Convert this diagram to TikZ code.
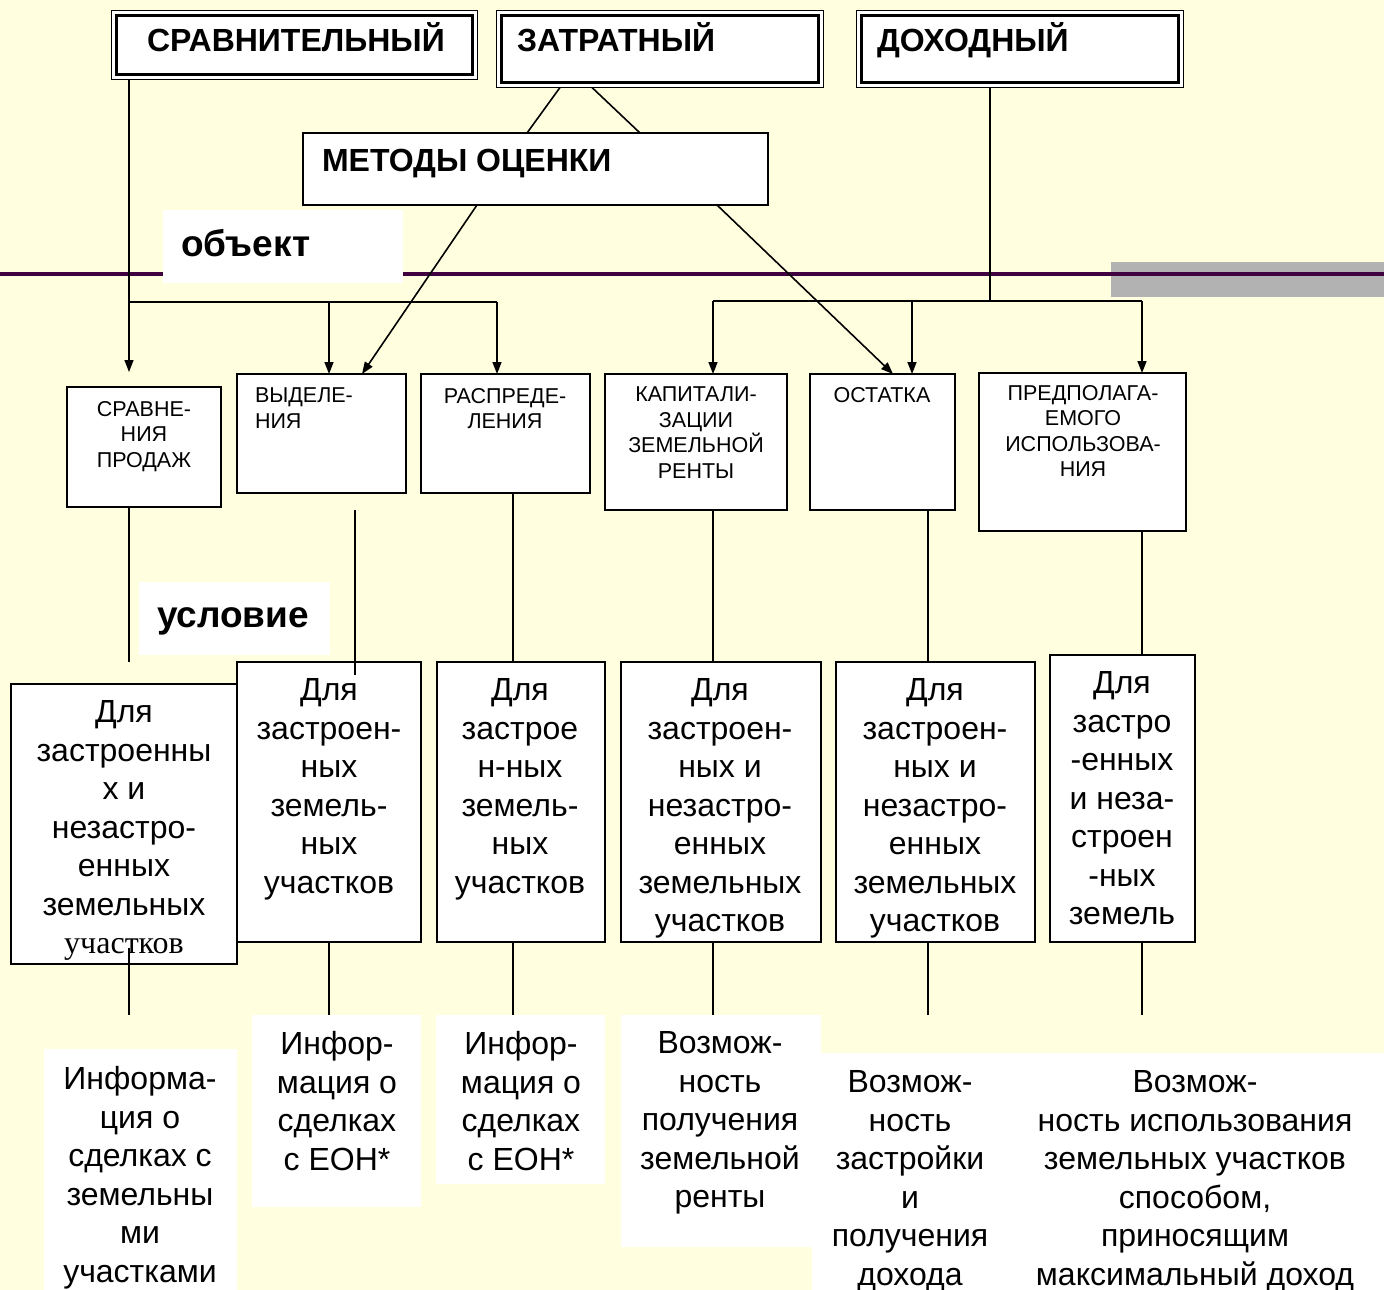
\documentclass[tikz,border=0pt]{standalone}
\usepackage{fontspec}
\setmainfont{Liberation Sans}
\newfontfamily\tnr{Liberation Serif}
\usetikzlibrary{arrows.meta,calc}
\definecolor{bg}{HTML}{FFFFE0}
\definecolor{purp}{HTML}{400040}
\definecolor{grayband}{HTML}{B2B2B2}
\tikzset{
  every node/.style={inner sep=0pt, outer sep=0pt},
  topbox/.style={draw, line width=1.4pt, fill=white, anchor=north west},
  innerline/.style={line width=2.8pt},
  box/.style={draw, line width=1.8pt, fill=white, anchor=north west},
  whitelab/.style={fill=white, anchor=north west},
  title/.style={font=\fontsize{32}{38}\selectfont\bfseries, anchor=base west},
  labtxt/.style={font=\fontsize{37}{42}\selectfont\bfseries, anchor=base west},
  smalltxt/.style={font=\fontsize{21.5}{25.5}\selectfont, align=center, anchor=north},
  bigtxt/.style={font=\fontsize{32}{38.5}\selectfont, align=center, anchor=north},
  conn/.style={line width=1.6pt},
  arr/.style={conn, -{Triangle[length=12pt,width=9pt]}},
}
\begin{document}
\begin{tikzpicture}[x=1pt,y=-1pt]
\fill[bg] (0,0) rectangle (1384,1290);
\useasboundingbox (0,0) rectangle (1384,1290);

% gray band and purple rule
\fill[grayband] (1111,262) rectangle (1384,297);
\draw[purp, line width=4pt] (0,274) -- (1384,274);

% labels on white
\node[whitelab, minimum width=240, minimum height=73] (objB) at (163,210) {};
\node[labtxt] (objT) at (181,256) {объект};
\node[whitelab, minimum width=191, minimum height=73] (uslB) at (139,582) {};
\node[labtxt] (uslT) at (157,627) {условие};

% top boxes (double frame: thin outer, thick inner)
\node[topbox, minimum width=366, minimum height=69] (srav) at (111.5,10.5) {};
\draw[innerline] ($(srav.north west)+(5,5)$) rectangle ($(srav.south east)+(-5,-5)$);
\node[title] (sravT) at (147,52) {СРАВНИТЕЛЬНЫЙ};
\node[topbox, minimum width=327, minimum height=77] (zatr) at (496.5,10.5) {};
\draw[innerline] ($(zatr.north west)+(5,5)$) rectangle ($(zatr.south east)+(-5,-5)$);
\node[title] (zatrT) at (517,52) {ЗАТРАТНЫЙ};
\node[topbox, minimum width=327, minimum height=77] (doh) at (856.5,10.5) {};
\draw[innerline] ($(doh.north west)+(5,5)$) rectangle ($(doh.south east)+(-5,-5)$);
\node[title] (dohT) at (877,52) {ДОХОДНЫЙ};

% methods box
\node[box, minimum width=465, minimum height=72] (met) at (303,133) {};
\node[title] (metT) at (322,171) {МЕТОДЫ ОЦЕНКИ};

% second row
\node[box, minimum width=154, minimum height=120] (sp) at (67,387) {};
\node[smalltxt] (spT) at (144,401) {СРАВНЕ-\\НИЯ\\ПРОДАЖ};
\node[box, minimum width=169, minimum height=119] (vyd) at (237,374) {};
\node[smalltxt, align=left, anchor=north west] (vydT) at (255,388) {ВЫДЕЛЕ-\\НИЯ};
\node[box, minimum width=169, minimum height=119] (rasp) at (421,374) {};
\node[smalltxt] (raspT) at (505,388) {РАСПРЕДЕ-\\ЛЕНИЯ};
\node[box, minimum width=182, minimum height=136] (kap) at (605,374) {};
\node[smalltxt] (kapT) at (696,387) {КАПИТАЛИ-\\ЗАЦИИ\\ЗЕМЕЛЬНОЙ\\РЕНТЫ};
\node[box, minimum width=145, minimum height=136] (ost) at (810,374) {};
\node[smalltxt] (ostT) at (882,387) {ОСТАТКА};
\node[box, minimum width=207, minimum height=158] (pred) at (979,373) {};
\node[smalltxt] (predT) at (1083,385) {ПРЕДПОЛАГА-\\ЕМОГО\\ИСПОЛЬЗОВА-\\НИЯ};

% third row
\node[box, minimum width=226, minimum height=280] (b1) at (11,684) {};
\node[bigtxt] (b1T) at (124,700.5) {Для\\застроенны\\х и\\незастро-\\енных\\земельных\\{\tnr участков}};
\node[box, minimum width=184, minimum height=280] (b2) at (237,662) {};
\node[bigtxt] (b2T) at (329,678.5) {Для\\застроен-\\ных\\земель-\\ных\\участков};
\node[box, minimum width=168, minimum height=280] (b3) at (437,662) {};
\node[bigtxt] (b3T) at (520,678.5) {Для\\застрое\\н-ных\\земель-\\ных\\участков};
\node[box, minimum width=200, minimum height=280] (b4) at (621,662) {};
\node[bigtxt] (b4T) at (720,678.5) {Для\\застроен-\\ных и\\незастро-\\енных\\земельных\\участков};
\node[box, minimum width=199, minimum height=280] (b5) at (836,662) {};
\node[bigtxt] (b5T) at (935,678.5) {Для\\застроен-\\ных и\\незастро-\\енных\\земельных\\участков};
\node[box, minimum width=145, minimum height=287] (b6) at (1050,655) {};
\node[bigtxt] (b6T) at (1122,671.5) {Для\\застро\\-енных\\и неза-\\строен\\-ных\\земель};

% bottom labels
\node[whitelab, minimum width=572, minimum height=237] (l56) at (812,1053) {};
\node[whitelab, minimum width=193, minimum height=241] (l1) at (44,1049) {};
\node[bigtxt] (l1T) at (140,1066.5) {Информа-\\ция о\\сделках с\\земельны\\ми\\участками};
\node[whitelab, minimum width=169, minimum height=192] (l2) at (252,1015) {};
\node[bigtxt] (l2T) at (337,1031.5) {Инфор-\\мация о\\сделках\\с ЕОН*};
\node[whitelab, minimum width=169, minimum height=169] (l3) at (436,1015) {};
\node[bigtxt] (l3T) at (521,1031.5) {Инфор-\\мация о\\сделках\\с ЕОН*};
\node[whitelab, minimum width=200, minimum height=232] (l4) at (621,1015) {};
\node[bigtxt] (l4T) at (720,1031.5) {Возмож-\\ность\\получения\\земельной\\ренты};
\node[bigtxt] (l5T) at (910,1070.5) {Возмож-\\ность\\застройки\\и\\получения\\дохода};
\node[bigtxt] (l6T) at (1195,1070.5) {Возмож-\\ность использования\\земельных участков\\способом,\\приносящим\\максимальный доход};

% connectors: top
\draw[conn] ($(zatr.south west)+(63.5,0)$) -- ($(met.north west)+(224,0)$);
\draw[conn] ($(zatr.south west)+(95.5,0)$) -- ($(met.north west)+(337,0)$);

\coordinate (t1) at (129,372);
\coordinate (busW) at (129,302);
\coordinate (t2) at ($(vyd.north west)+(92,0)$);
\coordinate (t3) at ($(rasp.north west)+(76,0)$);
\draw[arr] (srav.south -| t1) -- (t1);
\draw[conn] (busW) -- (busW -| t3);
\draw[arr] (t2 |- busW) -- (t2);
\draw[arr] (t3 |- busW) -- (t3);

\draw[arr] ($(met.south west)+(174,0)$) -- ($(vyd.north west)+(125,0)$);
\draw[arr] ($(met.south west)+(414,0)$) -- ($(ost.north west)+(83,0)$);

\coordinate (dB) at (990,301);
\coordinate (t6) at ($(kap.north west)+(108,0)$);
\coordinate (t7) at ($(ost.north west)+(102,0)$);
\coordinate (t8) at ($(pred.north west)+(163,0)$);
\draw[conn] (doh.south -| dB) -- (dB);
\draw[conn] (t6 |- dB) -- (t8 |- dB);
\draw[arr] (t6 |- dB) -- (t6);
\draw[arr] (t7 |- dB) -- (t7);
\draw[arr] (t8 |- dB) -- (t8);

% connectors: second to third row
\coordinate (u1) at (129,662);
\draw[conn] (sp.south -| u1) -- (u1);
\coordinate (v2a) at (355,510);
\coordinate (v2b) at (355,675);
\draw[conn] (v2a) -- (v2b);
\draw[conn] ($(rasp.south west)+(92,0)$) -- ($(b3.north west)+(76,0)$);
\draw[conn] ($(kap.south west)+(108,0)$) -- ($(b4.north west)+(92,0)$);
\draw[conn] ($(ost.south west)+(118,0)$) -- ($(b5.north west)+(92,0)$);
\draw[conn] ($(pred.south west)+(163,0)$) -- ($(b6.north west)+(92,0)$);

% connectors: third row to labels
\coordinate (w1a) at (129,948);
\coordinate (w1b) at (129,1015);
\draw[conn] (w1a) -- (w1b);
\draw[conn] ($(b2.south west)+(92,0)$) -- ($(l2.north west)+(77,0)$);
\draw[conn] ($(b3.south west)+(76,0)$) -- ($(l3.north west)+(77,0)$);
\draw[conn] ($(b4.south west)+(92,0)$) -- ($(l4.north west)+(92,0)$);
\coordinate (w5) at (928,1015);
\draw[conn] (b5.south -| w5) -- (w5);
\coordinate (w6) at (1142,1015);
\draw[conn] (b6.south -| w6) -- (w6);
\end{tikzpicture}
\end{document}
